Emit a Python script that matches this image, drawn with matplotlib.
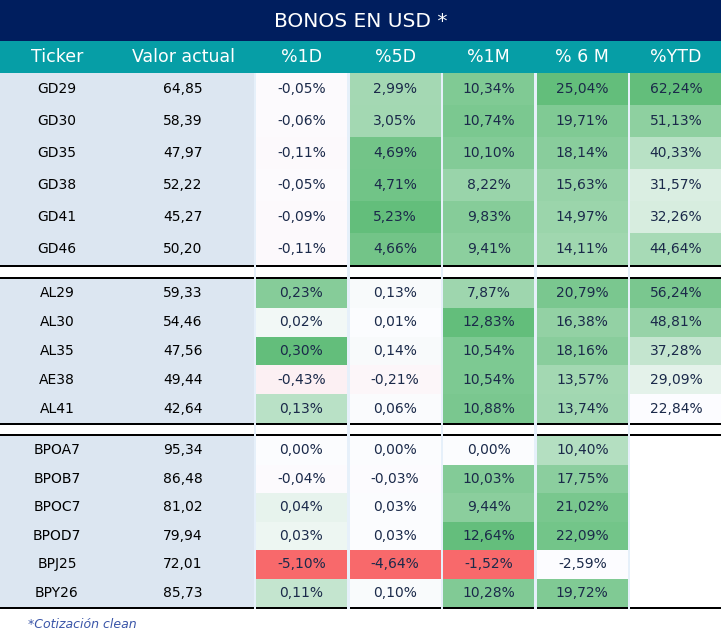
import numpy as np
import matplotlib.pyplot as plt
from matplotlib.patches import Rectangle
from matplotlib.colors import LinearSegmentedColormap, TwoSlopeNorm, Normalize

plt.rcParams['font.family'] = ['DejaVu Sans']

title = "BONOS EN USD *"
headers = ["Ticker", "Valor actual", "%1D", "%5D", "%1M", "% 6 M", "%YTD"]

tickers = ["GD29", "GD30", "GD35", "GD38", "GD41", "GD46",
           "AL29", "AL30", "AL35", "AE38", "AL41",
           "BPOA7", "BPOB7", "BPOC7", "BPOD7", "BPJ25", "BPY26"]
valor = [64.85, 58.39, 47.97, 52.22, 45.27, 50.20,
         59.33, 54.46, 47.56, 49.44, 42.64,
         95.34, 86.48, 81.02, 79.94, 72.01, 85.73]
var_1d = [-0.05, -0.06, -0.11, -0.05, -0.09, -0.11,
          0.23, 0.02, 0.30, -0.43, 0.13,
          0.00, -0.04, 0.04, 0.03, -5.10, 0.11]
var_5d = [2.99, 3.05, 4.69, 4.71, 5.23, 4.66,
          0.13, 0.01, 0.14, -0.21, 0.06,
          0.00, -0.03, 0.03, 0.03, -4.64, 0.10]
var_1m = [10.34, 10.74, 10.10, 8.22, 9.83, 9.41,
          7.87, 12.83, 10.54, 10.54, 10.88,
          0.00, 10.03, 9.44, 12.64, -1.52, 10.28]
var_6m = [25.04, 19.71, 18.14, 15.63, 14.97, 14.11,
          20.79, 16.38, 18.16, 13.57, 13.74,
          10.40, 17.75, 21.02, 22.09, -2.59, 19.72]
var_ytd = [62.24, 51.13, 40.33, 31.57, 32.26, 44.64,
           56.24, 48.81, 37.28, 29.09, 22.84,
           None, None, None, None, None, None]
block_sizes = [6, 5, 6]
footnote = "*Cotización clean"

W, H = 724, 639
navy = '#001E5E'
teal = '#069EA6'
left_bg = '#DCE6F1'
gap_bg = '#E6F0FA'
txt_dark = '#1B2A4A'

rwg = LinearSegmentedColormap.from_list('rwg', ['#F8696B', '#FCFCFF', '#63BE7B'])
wg = LinearSegmentedColormap.from_list('wg', ['#FCFCFF', '#63BE7B'])


def col_colors(vals, diverging):
    v = np.array([np.nan if x is None else x for x in vals], dtype=float)
    if diverging:
        norm = TwoSlopeNorm(vmin=np.nanmin(v), vcenter=0, vmax=np.nanmax(v))
        return [rwg(norm(x)) if not np.isnan(x) else 'white' for x in v]
    norm = Normalize(np.nanmin(v), np.nanmax(v))
    return [wg(norm(x)) if not np.isnan(x) else 'white' for x in v]


data_cols = [var_1d, var_5d, var_1m, var_6m, var_ytd]
diverg = [True, True, True, False, False]
colors = [col_colors(c, d) for c, d in zip(data_cols, diverg)]

fig = plt.figure(figsize=(W / 100, H / 100), dpi=100)
ax = fig.add_axes([0, 0, 1, 1])
ax.set_xlim(0, W)
ax.set_ylim(H, 0)
ax.axis('off')

# layout
title_h, head_h = 41, 32
left_w = 254
c0, cw, cg = 256, 91, 2.6
col_x = [c0 + i * (cw + cg) for i in range(5)]
right = col_x[-1] + cw
block_top = [73, 279, 436]
row_h = [32, 28.8, 28.5]
lw = 2
fs = 10

ax.add_patch(Rectangle((0, 0), right, title_h, color=navy, lw=0))
ax.add_patch(Rectangle((0, title_h), right, head_h, color=teal, lw=0))
ax.text(right / 2, title_h / 2 + 1, title, color='white', fontsize=14.5,
        ha='center', va='center')
head_x = [57, 183] + [x + cw / 2 for x in col_x]
for hx, h in zip(head_x, headers):
    ax.text(hx, title_h + head_h / 2, h, color='white', fontsize=12.5,
            ha='center', va='center')

# gap background behind table body
body_top = title_h + head_h
body_bot = block_top[-1] + row_h[-1] * block_sizes[-1]
ax.add_patch(Rectangle((0, body_top), right, body_bot - body_top + lw,
                       color=gap_bg, lw=0))
seg_x = [(0, left_w)] + [(x, cw) for x in col_x]
for (sx, sw) in seg_x:
    ax.add_patch(Rectangle((sx, body_top), sw, body_bot - body_top,
                           color='white', lw=0))

fmt = lambda v: f"{v:.2f}".replace('.', ',')

idx = 0
for b, n in enumerate(block_sizes):
    top, rh = block_top[b], row_h[b]
    ax.add_patch(Rectangle((0, top), left_w, rh * n, color=left_bg, lw=0))
    for r in range(n):
        y = top + r * rh
        yc = y + rh / 2
        ax.text(57, yc, tickers[idx], color='black', fontsize=fs,
                ha='center', va='center')
        ax.text(183, yc, fmt(valor[idx]), color='black', fontsize=fs,
                ha='center', va='center')
        for j, x in enumerate(col_x):
            ax.add_patch(Rectangle((x, y), cw, rh, color=colors[j][idx], lw=0))
            v = data_cols[j][idx]
            if v is not None:
                ax.text(x + cw / 2, yc, fmt(v) + '%', color=txt_dark,
                        fontsize=fs, ha='center', va='center')
        idx += 1
    # separator lines
    bot = top + rh * n
    lines_y = [bot]
    if b > 0:
        lines_y.append(top - lw)
    for ly in lines_y:
        for (sx, sw) in seg_x:
            ax.add_patch(Rectangle((sx, ly), sw, lw, color='black', lw=0))

ax.text(28, 624, footnote, color='#3A55A8', fontsize=9, style='italic',
        ha='left', va='center')

fig.savefig('out.png', dpi=100)
